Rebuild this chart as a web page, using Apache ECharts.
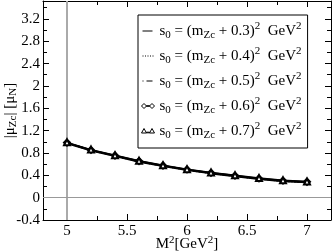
<!DOCTYPE html>
<html><head><meta charset="utf-8">
<script src="https://cdn.jsdelivr.net/npm/echarts@6/dist/echarts.min.js"></script>
<style>html,body{margin:0;padding:0;background:#fff}#c{width:332px;height:252px}</style>
</head><body><div id="c"></div>
<script>
var M2 = [5.0, 5.2, 5.4, 5.6, 5.8, 6.0, 6.2, 6.4, 6.6, 6.8, 7.0];
var mu03 = [0.970, 0.840, 0.740, 0.640, 0.560, 0.490, 0.430, 0.380, 0.330, 0.290, 0.270];
var mu04 = [0.975, 0.845, 0.745, 0.645, 0.565, 0.495, 0.435, 0.385, 0.335, 0.295, 0.275];
var mu05 = [0.980, 0.850, 0.750, 0.650, 0.570, 0.500, 0.440, 0.390, 0.340, 0.300, 0.280];
var mu06 = [0.985, 0.855, 0.755, 0.655, 0.575, 0.505, 0.445, 0.395, 0.345, 0.305, 0.285];
var mu07 = [0.990, 0.860, 0.760, 0.660, 0.580, 0.510, 0.450, 0.400, 0.350, 0.310, 0.290];
var shifts = ['0.3', '0.4', '0.5', '0.6', '0.7'];
var xMinor = [5.25, 5.75, 6.25, 6.75];
var yMinor = [-0.2, 0.2, 0.6, 1.0, 1.4, 1.8, 2.2, 2.6, 3.0, 3.4];

var FONT = 'Liberation Serif';
var richLegend = {
  t: {fontFamily: FONT, fontSize: 15, color: '#000', lineHeight: 20, height: 20},
  sub: {fontFamily: FONT, fontSize: 11, color: '#000', lineHeight: 11, verticalAlign: 'bottom'},
  sup: {fontFamily: FONT, fontSize: 11, color: '#000', lineHeight: 11, verticalAlign: 'top'}
};
var richName = {
  t: {fontFamily: FONT, fontSize: 15, color: '#000', lineHeight: 18},
  sub: {fontFamily: FONT, fontSize: 11, color: '#000', lineHeight: 11, verticalAlign: 'bottom'},
  sup: {fontFamily: FONT, fontSize: 11, color: '#000', lineHeight: 11, verticalAlign: 'top'}
};
function pairs(ys) { return M2.map(function (x, i) { return [x, ys[i]]; }); }
function nm(s) { return 's0=(mZc+' + s + ')^2'; }

var chart = echarts.init(document.getElementById('c'), null, {renderer: 'canvas'});
var styles = [
  {type: 'solid', symbol: 'none'},
  {type: 'dotted', symbol: 'none'},
  {type: [6, 2, 1, 2], symbol: 'none'},
  {type: 'solid', symbol: 'emptyDiamond'},
  {type: 'solid', symbol: 'emptyTriangle'}
];
var BOX = 'M0,0M13,9';
var icons = [
  'path://' + BOX + 'M1,4L11,4L11,5L1,5Z',
  'path://' + BOX + 'M1,4h1v1h-1ZM3.5,4h1v1h-1ZM6,4h1v1h-1ZM8.5,4h1v1h-1ZM11,4h1v1h-1Z',
  'path://' + BOX + 'M1,4h1v1h-1ZM5,4h6v1h-6Z',
  'path://' + BOX + 'M0,4.5L2.5,2L5,4.5L2.5,7ZM5,4.2h3v0.6h-3ZM8,4.5L10.5,2L13,4.5L10.5,7Z',
  'path://' + BOX + 'M0,6.5L2.5,2L5,6.5ZM5,5.7h3v0.6h-3ZM8,6.5L10.5,2L13,6.5Z'
];
var iconStyles = [
  {color: '#000', borderWidth: 0},
  {color: '#000', borderWidth: 0},
  {color: '#000', borderWidth: 0},
  {color: '#fff', borderColor: '#000', borderWidth: 1},
  {color: '#fff', borderColor: '#000', borderWidth: 1}
];
var allData = [mu03, mu04, mu05, mu06, mu07];
var series = allData.map(function (d, i) {
  var s = {
    name: nm(shifts[i]), type: 'line', data: pairs(d),
    xAxisIndex: 0, yAxisIndex: 0,
    symbol: styles[i].symbol, symbolSize: 6, showSymbol: styles[i].symbol !== 'none',
    lineStyle: {color: '#000', width: 1.5, type: styles[i].type},
    itemStyle: {color: '#000', borderColor: '#000', borderWidth: 1},
    animation: false, z: 3 + i
  };
  if (i === 0) {
    s.markLine = {
      silent: true, symbol: 'none', animation: false, label: {show: false},
      data: [
        {xAxis: 5, lineStyle: {color: '#aaa', width: 2, type: 'solid'}},
        {yAxis: 0, lineStyle: {color: '#999', width: 1, type: 'solid'}}
      ]
    };
  }
  return s;
});

var tickStyle = {color: '#000', width: 1};
function xMain(pos, labels) {
  return {
    type: 'value', min: 4.8, max: 7.2, position: pos,
    axisLine: {show: true, onZero: false, lineStyle: tickStyle},
    axisTick: {show: true, inside: true, length: 6, lineStyle: tickStyle},
    axisLabel: labels ? {show: true, showMinLabel: false, showMaxLabel: false, fontFamily: FONT, fontSize: 15, color: '#000', margin: 4} : {show: false},
    splitLine: {show: false}
  };
}
function xMin(pos) {
  return {
    type: 'value', min: 4.8, max: 7.2, position: pos,
    axisLine: {show: false, onZero: false},
    axisTick: {show: true, inside: true, length: 4, customValues: xMinor, lineStyle: tickStyle},
    axisLabel: {show: false}, splitLine: {show: false}
  };
}
function yMain(pos, labels) {
  return {
    type: 'value', min: -0.4, max: 3.52, interval: 0.4, position: pos,
    axisLine: {show: true, onZero: false, lineStyle: tickStyle},
    axisTick: {show: true, inside: true, length: 6, lineStyle: tickStyle},
    axisLabel: labels ? {show: true, showMaxLabel: false, fontFamily: FONT, fontSize: 15, color: '#000', margin: 3} : {show: false},
    splitLine: {show: false}
  };
}
function yMin(pos) {
  return {
    type: 'value', min: -0.4, max: 3.52, position: pos,
    axisLine: {show: false, onZero: false},
    axisTick: {show: true, inside: true, length: 4, customValues: yMinor, lineStyle: tickStyle},
    axisLabel: {show: false}, splitLine: {show: false}
  };
}
var xAxes = [xMain('bottom', true), xMin('bottom'), xMain('top', false), xMin('top')];
xAxes[0].name = '{t|M}{sup|2}{t|[GeV}{sup|2}{t|]}';
xAxes[0].nameLocation = 'middle';
xAxes[0].nameGap = 15;
xAxes[0].nameMoveOverlap = false;
xAxes[0].nameTextStyle = {rich: richName};
var yAxes = [yMain('left', true), yMin('left'), yMain('right', false), yMin('right')];
yAxes[0].name = '{t||μ}{sub|Zc}{t|| [μ}{sub|N}{t|]}';
yAxes[0].nameLocation = 'middle';
yAxes[0].nameRotate = 90;
yAxes[0].nameGap = 24;
yAxes[0].nameMoveOverlap = false;
yAxes[0].nameTextStyle = {rich: richName};

chart.setOption({
  animation: false,
  backgroundColor: '#fff',
  grid: {left: 43, right: 1, top: 1, bottom: 32, containLabel: false, outerBoundsMode: 'none'},
  xAxis: xAxes,
  yAxis: yAxes,
  legend: {
    orient: 'vertical', left: 138, top: 15,
    borderColor: '#000', borderWidth: 1, padding: [6, 6, 7, 3],
    itemGap: 5, itemWidth: 13, itemHeight: 9,
    backgroundColor: '#fff',
    data: series.map(function (s, i) { return {name: s.name, icon: icons[i], itemStyle: iconStyles[i]}; }),
    formatter: function (name) {
      var i = series.findIndex(function (s) { return s.name === name; });
      return '{t|s}{sub|0}{t| = (m}{sub|Zc}{t| + ' + shifts[i] + ')}{sup|2}{t|  GeV}{sup|2}';
    },
    textStyle: {rich: richLegend, fontFamily: FONT, fontSize: 15, color: '#000', lineHeight: 20}
  },
  series: series
});
</script></body></html>
